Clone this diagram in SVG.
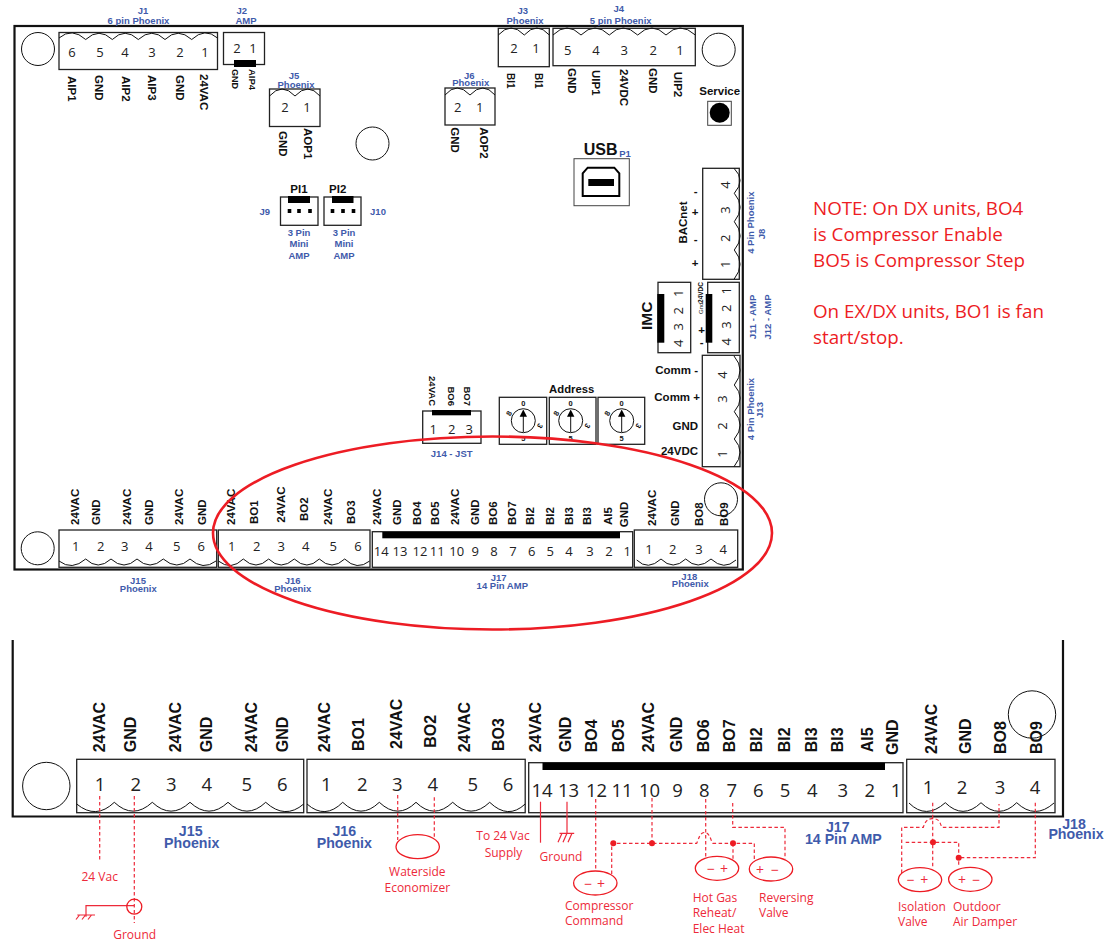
<svg xmlns="http://www.w3.org/2000/svg" width="1118" height="943" viewBox="0 0 1118 943">
<style>
text{font-family:"Liberation Sans",Arial,sans-serif;dominant-baseline:central}
.box{fill:#fff;stroke:#222;stroke-width:1.3}
.sc{fill:none;stroke:#111;stroke-width:1}
.bar{fill:#000;stroke:none}
.hole{fill:#fff;stroke:#111;stroke-width:1}
.bd{fill:none;stroke:#111;stroke-width:2.2}
.n{font-family:"Open Sans","Noto Sans",sans-serif;font-size:13px;fill:#222;text-anchor:middle}
.N{font-family:"Open Sans","Noto Sans",sans-serif;font-size:18.5px;fill:#222;text-anchor:middle}
.l{font-weight:700;font-size:11.5px;fill:#111}
.L{font-weight:700;font-size:16px;fill:#111}
.s{font-weight:700;font-size:9.5px;fill:#111}
.t{font-weight:700;font-size:7.5px;fill:#111;text-anchor:middle}
.b{font-weight:700;font-size:9.5px;fill:#3f5bab;text-anchor:middle}
.B{font-weight:700;font-size:14.2px;fill:#3f5bab;text-anchor:middle}
.r{font-family:"Open Sans","Noto Sans",sans-serif;font-size:12px;fill:#ed2a3a}
.p{font-family:"Open Sans","Noto Sans",sans-serif;font-size:14px;fill:#ed2a3a;text-anchor:middle}
.note{font-family:"Open Sans","Noto Sans",sans-serif;font-size:18.8px;fill:#ed1c24}
.w{fill:none;stroke:#ed2a3a;stroke-width:1.2;stroke-dasharray:3.5 2.5}
.ws{fill:none;stroke:#ed2a3a;stroke-width:1.2}
.dev{fill:none;stroke:#ed1c24;stroke-width:1.3}
.dot{fill:#ed1c24}
</style>

<g id="board-top"><rect class="bd" x="14.5" y="26" width="728.3" height="543.5"/></g>
<g id="holes-top">
<circle class="hole" cx="38" cy="49" r="16.5"/><circle class="hole" cx="372.5" cy="143.5" r="16.5"/><circle class="hole" cx="718.7" cy="49.7" r="16.5"/><circle class="hole" cx="37.7" cy="548.3" r="16.5"/><circle class="hole" cx="721" cy="499.3" r="16.5"/>
</g>

<g id="J1">
<rect class="box" x="59" y="32.5" width="158.5" height="37"/>
<path class="sc" d="M59 38Q72 27 85.7 39.5Q99 27 112.3 39.5Q125 27 138.3 39.5Q152 27 165 39.5Q178 27 191.7 39.5Q205 27 217.5 38"/>
<text class="n" x="72" y="52">6</text><text class="n" x="100" y="52">5</text><text class="n" x="125" y="52">4</text><text class="n" x="152" y="52">3</text><text class="n" x="180" y="52">2</text><text class="n" x="205" y="52">1</text>
<text class="l" transform="translate(72 76) rotate(90)">AIP1</text><text class="l" transform="translate(98.7 75) rotate(90)">GND</text><text class="l" transform="translate(126 76) rotate(90)">AIP2</text><text class="l" transform="translate(152 75) rotate(90)">AIP3</text><text class="l" transform="translate(180 75) rotate(90)">GND</text><text class="l" transform="translate(204 74) rotate(90)">24VAC</text>
<text class="b" x="143" y="10.5">J1</text><text class="b" x="138.5" y="20">6 pin Phoenix</text>
</g>
<g id="J2">
<rect class="box" x="223.5" y="32.5" width="41" height="32"/><rect class="bar" x="234" y="60" width="22" height="7"/>
<text class="n" x="237" y="48">2</text><text class="n" x="253" y="48">1</text>
<text class="s" style="font-size:9px" transform="translate(235 69) rotate(90)">GND</text><text class="s" transform="translate(252 69) rotate(90)">AIP4</text>
<text class="b" x="241.7" y="10.5">J2</text><text class="b" x="246" y="20">AMP</text>
</g>
<g id="J5">
<rect class="box" x="269.5" y="89" width="50.5" height="37.5"/><path class="sc" d="M269.5 96Q282 82 295 96Q308 82 320 96"/>
<text class="n" x="285" y="107">2</text><text class="n" x="307" y="107">1</text>
<text class="l" transform="translate(283 131) rotate(90)">GND</text><text class="l" transform="translate(308 128) rotate(90)">AOP1</text>
<text class="b" x="294" y="75">J5</text><text class="b" x="296" y="84">Phoenix</text>
</g>
<g id="J9">
<rect class="box" x="280.5" y="197" width="37.5" height="28.3"/><rect class="bar" x="288" y="196" width="22" height="7"/>
<rect class="bar" x="287.7" y="209" width="3.6" height="4"/><rect class="bar" x="297.2" y="209" width="3.6" height="4"/><rect class="bar" x="308.2" y="209" width="3.6" height="4"/>
<text class="l" text-anchor="middle" x="299" y="189">PI1</text><text class="b" x="264.7" y="211">J9</text>
<text class="b" x="299" y="232">3 Pin</text><text class="b" x="299" y="243.7">Mini</text><text class="b" x="299" y="255.6">AMP</text>
</g>
<g id="J10">
<rect class="box" x="324" y="197" width="37" height="28.3"/><rect class="bar" x="332" y="196" width="21.5" height="7"/>
<rect class="bar" x="330.7" y="209" width="3.6" height="4"/><rect class="bar" x="341.2" y="209" width="3.6" height="4"/><rect class="bar" x="351.7" y="209" width="3.6" height="4"/>
<text class="l" text-anchor="middle" x="337.7" y="189">PI2</text><text class="b" x="378" y="211">J10</text>
<text class="b" x="344" y="232">3 Pin</text><text class="b" x="344" y="243.7">Mini</text><text class="b" x="344" y="255.6">AMP</text>
</g>
<g id="J6">
<rect class="box" x="445" y="88" width="50" height="37"/><path class="sc" d="M445 95Q457 81 470 95Q483 81 495 95"/>
<text class="n" x="457.7" y="107">2</text><text class="n" x="479.7" y="107">1</text>
<text class="l" transform="translate(454.7 127.3) rotate(90)">GND</text><text class="l" transform="translate(483.7 127.3) rotate(90)">AOP2</text>
<text class="b" x="469.3" y="75">J6</text><text class="b" x="470.7" y="82">Phoenix</text>
</g>
<g id="J3">
<rect class="box" x="498.3" y="28.3" width="51" height="38.4"/><path class="sc" d="M498.3 35Q511 21 524.3 35Q537 21 549.3 35"/>
<text class="n" x="514" y="48">2</text><text class="n" x="536" y="48">1</text>
<text class="l" style="font-size:10px" transform="translate(510.7 73) rotate(90)">BI1</text><text class="l" style="font-size:10px" transform="translate(538.7 73) rotate(90)">BI1</text>
<text class="b" x="522.7" y="10.7">J3</text><text class="b" x="525" y="20.7">Phoenix</text>
</g>
<g id="J4">
<rect class="box" x="553" y="28.3" width="142.3" height="37.4"/><path class="sc" d="M553 35Q567 21 581 35Q595 21 609.3 35Q623 21 637.7 35Q652 21 666 35Q680 21 695.3 35"/>
<text class="n" x="567.7" y="50">5</text><text class="n" x="596" y="50">4</text><text class="n" x="624.3" y="50">3</text><text class="n" x="653.3" y="50">2</text><text class="n" x="680" y="50">1</text>
<text class="l" transform="translate(571.7 68) rotate(90)">GND</text><text class="l" transform="translate(596 70) rotate(90)">UIP1</text><text class="l" transform="translate(623.7 69) rotate(90)">24VDC</text><text class="l" transform="translate(653.3 68) rotate(90)">GND</text><text class="l" transform="translate(677.7 71.7) rotate(90)">UIP2</text>
<text class="b" x="618.7" y="8.3">J4</text><text class="b" x="620.7" y="20.7">5 pin Phoenix</text>
</g>
<g id="service">
<text class="l" text-anchor="middle" x="719.7" y="91">Service</text>
<rect x="707.7" y="101.3" width="23.6" height="24" fill="#fff" stroke="#444" stroke-width="1"/><circle cx="719.7" cy="112.7" r="10" fill="#000"/>
</g>
<g id="usb">
<text x="600.7" y="149.3" text-anchor="middle" font-weight="700" font-size="16px" fill="#111">USB</text><text class="b" x="625" y="153.3">P1</text>
<rect x="574" y="158.7" width="55.3" height="47" fill="#fff" stroke="#444" stroke-width="1"/>
<path d="M582.7 196V173.3L587.7 167.7H614.3L619.3 173.3V196Z" fill="none" stroke="#000" stroke-width="2"/><rect class="bar" x="588.3" y="179" width="25.7" height="7"/>
</g>
<g id="J8">
<rect class="box" x="702.7" y="168.3" width="36.6" height="111"/><path class="sc" d="M734 168.3Q746 180 734.3 193.3Q746 207 734.3 221.7Q746 236 734.3 250Q746 264 734 279.3"/>
<text class="n" transform="translate(725 185) rotate(-90)">4</text><text class="n" transform="translate(725 210) rotate(-90)">3</text><text class="n" transform="translate(725 238.3) rotate(-90)">2</text><text class="n" transform="translate(725 264.3) rotate(-90)">1</text>
<text class="l" text-anchor="middle" x="695.7" y="190.7">-</text><text class="l" text-anchor="middle" x="695" y="212">+</text><text class="l" text-anchor="middle" x="695.7" y="239">-</text><text class="l" text-anchor="middle" x="695" y="263">+</text>
<text class="l" text-anchor="middle" transform="translate(682.7 222.5) rotate(-90)">BACnet</text>
<text class="b" transform="translate(750.7 222.7) rotate(-90)">4 Pin Phoenix</text><text class="b" transform="translate(761.7 234) rotate(-90)">J8</text>
</g>
<g id="IMC">
<rect class="box" x="658" y="282.3" width="32.7" height="70.4"/><rect class="bar" x="657.3" y="294" width="7" height="48.7"/>
<text class="n" transform="translate(678.3 293.3) rotate(-90)">1</text><text class="n" transform="translate(678.3 310.7) rotate(-90)">2</text><text class="n" transform="translate(678.3 326.7) rotate(-90)">3</text><text class="n" transform="translate(678.3 343.3) rotate(-90)">4</text>
<text text-anchor="middle" font-weight="700" font-size="15.5px" fill="#111" transform="translate(646 315.8) rotate(-90)">IMC</text>
</g>
<g id="J11-J12">
<rect class="box" x="707.7" y="282.3" width="31.6" height="70.4"/><rect class="bar" x="705.7" y="294" width="6.6" height="48.7"/>
<text class="n" transform="translate(726 290.7) rotate(-90)">1</text><text class="n" transform="translate(726 308.3) rotate(-90)">2</text><text class="n" transform="translate(726 325) rotate(-90)">3</text><text class="n" transform="translate(726 341.7) rotate(-90)">4</text>
<text class="t" style="font-size:6.5px" transform="translate(700.7 292.5) rotate(-90)">24VDC</text><text class="t" style="font-size:6px;font-weight:400" transform="translate(700.7 308.3) rotate(-90)">Gnd</text>
<text class="l" text-anchor="middle" x="701.7" y="330">+</text><text class="l" text-anchor="middle" x="701.7" y="342.3">-</text>
<text class="b" transform="translate(752.3 317) rotate(-90)">J11 - AMP</text><text class="b" transform="translate(767.7 317) rotate(-90)">J12 - AMP</text>
</g>
<g id="J13">
<rect class="box" x="702.3" y="355.3" width="37.7" height="111.4"/><path class="sc" d="M734 356Q746 370 734.3 385Q746 398 734.3 411.7Q746 425 734.3 439Q746 452 734 466.7"/>
<text class="n" transform="translate(721.7 375) rotate(-90)">4</text><text class="n" transform="translate(721.7 399) rotate(-90)">3</text><text class="n" transform="translate(721.7 426) rotate(-90)">2</text><text class="n" transform="translate(721.7 454) rotate(-90)">1</text>
<text class="l" text-anchor="end" x="698" y="370">Comm -</text><text class="l" text-anchor="end" x="700" y="397">Comm +</text><text class="l" text-anchor="end" x="698" y="425.7">GND</text><text class="l" text-anchor="end" x="698" y="451">24VDC</text>
<text class="b" transform="translate(750 409) rotate(-90)">4 Pin Phoenix</text><text class="b" transform="translate(759.3 410) rotate(-90)">J13</text>
</g>
<g id="J14">
<rect class="box" x="422.7" y="411" width="58.3" height="32.3"/><rect class="bar" x="432" y="410" width="39" height="5.3"/>
<text class="n" x="433.3" y="429">1</text><text class="n" x="451.7" y="429">2</text><text class="n" x="469.3" y="429">3</text>
<text class="s" text-anchor="end" transform="translate(432.7 406) rotate(90)">24VAC</text><text class="s" text-anchor="end" transform="translate(451 406) rotate(90)">BO6</text><text class="s" text-anchor="end" transform="translate(467.7 406) rotate(90)">BO7</text>
<text class="b" x="451.7" y="453.7">J14 - JST</text>
</g>
<g id="address">
<text class="l" style="font-size:11.3px" text-anchor="middle" x="571.7" y="389.3">Address</text>
<g id="dial1"><rect class="box" x="499.3" y="397.3" width="47.4" height="47"/><circle cx="523.3" cy="420.7" r="12" fill="none" stroke="#111" stroke-width="1"/><path d="M523.3 432V415" stroke="#111" stroke-width="1"/><path class="bar" d="M523.3 409.5L527 416.7H519.6Z"/>
<text class="t" x="523.3" y="403.3">0</text><text class="t" x="523.3" y="438.3">5</text><text class="t" transform="translate(509 413.5) rotate(-60)">8</text><text class="t" transform="translate(540 425.7) rotate(120)">3</text></g>
<g id="dial2"><rect class="box" x="549.3" y="397.3" width="46.7" height="47"/><circle cx="570.7" cy="420.7" r="12" fill="none" stroke="#111" stroke-width="1"/><path d="M570.7 432V415" stroke="#111" stroke-width="1"/><path class="bar" d="M570.7 409.5L574.4 416.7H567Z"/>
<text class="t" x="570.7" y="403.3">0</text><text class="t" x="570.7" y="438.3">5</text><text class="t" transform="translate(556.4 413.5) rotate(-60)">8</text><text class="t" transform="translate(587.4 425.7) rotate(120)">3</text></g>
<g id="dial3"><rect class="box" x="598" y="397.3" width="46.7" height="47"/><circle cx="621.7" cy="420.7" r="12" fill="none" stroke="#111" stroke-width="1"/><path d="M621.7 432V415" stroke="#111" stroke-width="1"/><path class="bar" d="M621.7 409.5L625.4 416.7H618Z"/>
<text class="t" x="621.7" y="403.3">0</text><text class="t" x="621.7" y="438.3">5</text><text class="t" transform="translate(607.4 413.5) rotate(-60)">8</text><text class="t" transform="translate(638.4 425.7) rotate(120)">3</text></g>
</g>
<g id="J15">
<rect class="box" x="59" y="530" width="157.7" height="37.3"/><path class="sc" d="M59 561Q72 571 85.7 559Q98 571 111 559Q124 571 137 559Q150 571 163.3 559Q177 571 190 559Q203 571 216 561"/>
<text class="n" x="75.7" y="546">1</text><text class="n" x="100.7" y="546">2</text><text class="n" x="124.7" y="546">3</text><text class="n" x="149" y="546">4</text><text class="n" x="176.7" y="546">5</text><text class="n" x="201.3" y="546">6</text>
<text class="l" transform="translate(74.7 525) rotate(-90)">24VAC</text><text class="l" transform="translate(96 525) rotate(-90)">GND</text><text class="l" transform="translate(126.7 525) rotate(-90)">24VAC</text><text class="l" transform="translate(149.3 525) rotate(-90)">GND</text><text class="l" transform="translate(179 525) rotate(-90)">24VAC</text><text class="l" transform="translate(201.7 525) rotate(-90)">GND</text>
<text class="b" x="138" y="580">J15</text><text class="b" x="138.3" y="588.7">Phoenix</text>
</g>
<g id="J16">
<rect class="box" x="218.3" y="530" width="151.7" height="37.3"/><path class="sc" d="M218.3 561Q231 571 243.3 559Q256 571 268.7 559Q281 571 294.3 559Q307 571 319.3 559Q332 571 344.7 559Q357 571 369.7 561"/>
<text class="n" x="231.7" y="546">1</text><text class="n" x="256.7" y="546">2</text><text class="n" x="281.3" y="546">3</text><text class="n" x="305.7" y="546">4</text><text class="n" x="333.3" y="546">5</text><text class="n" x="358" y="546">6</text>
<text class="l" transform="translate(231 525) rotate(-90)">24VAC</text><text class="l" transform="translate(254.3 524) rotate(-90)">BO1</text><text class="l" transform="translate(280.7 522.7) rotate(-90)">24VAC</text><text class="l" transform="translate(303.7 521) rotate(-90)">BO2</text><text class="l" transform="translate(327.7 525) rotate(-90)">24VAC</text><text class="l" transform="translate(350.7 524) rotate(-90)">BO3</text>
<text class="b" x="292.7" y="580">J16</text><text class="b" x="292.7" y="588.7">Phoenix</text>
</g>
<g id="J17">
<rect class="box" x="372.3" y="531.7" width="260.4" height="35.6"/><rect class="bar" x="382.3" y="532" width="237.7" height="6.3"/>
<text class="n" x="381.3" y="550.7">14</text><text class="n" x="400" y="550.7">13</text><text class="n" x="420" y="550.7">12</text><text class="n" x="437.3" y="550.7">11</text><text class="n" x="456.7" y="550.7">10</text><text class="n" x="475.3" y="550.7">9</text><text class="n" x="494" y="550.7">8</text><text class="n" x="513" y="550.7">7</text><text class="n" x="531.7" y="550.7">6</text><text class="n" x="550.3" y="550.7">5</text><text class="n" x="569" y="550.7">4</text><text class="n" x="590" y="550.7">3</text><text class="n" x="609" y="550.7">2</text><text class="n" x="627.3" y="550.7">1</text>
<text class="l" transform="translate(376.7 525) rotate(-90)">24VAC</text><text class="l" transform="translate(397.3 525) rotate(-90)">GND</text><text class="l" transform="translate(416.7 525) rotate(-90)">BO4</text><text class="l" transform="translate(434.7 525) rotate(-90)">BO5</text><text class="l" transform="translate(455.3 525) rotate(-90)">24VAC</text><text class="l" transform="translate(474.7 525) rotate(-90)">GND</text><text class="l" transform="translate(493.3 525) rotate(-90)">BO6</text><text class="l" transform="translate(512 525) rotate(-90)">BO7</text><text class="l" transform="translate(530.3 525) rotate(-90)">BI2</text><text class="l" transform="translate(550 525) rotate(-90)">BI2</text><text class="l" transform="translate(568.7 525) rotate(-90)">BI3</text><text class="l" transform="translate(587.3 525) rotate(-90)">BI3</text><text class="l" transform="translate(607.7 525) rotate(-90)">AI5</text><text class="l" transform="translate(624.3 527.3) rotate(-90)">GND</text>
<text class="b" x="498.7" y="577.3">J17</text><text class="b" x="502.3" y="585.3">14 Pin AMP</text>
</g>
<g id="J18">
<rect class="box" x="634.3" y="530" width="103.4" height="37.3"/><path class="sc" d="M636.7 560Q648 571 661 559Q673 571 685.7 559Q698 571 711 559Q724 571 736 560"/>
<text class="n" x="649" y="548.7">1</text><text class="n" x="672.7" y="548.7">2</text><text class="n" x="699" y="548.7">3</text><text class="n" x="723.3" y="548.7">4</text>
<text class="l" transform="translate(651.7 526) rotate(-90)">24VAC</text><text class="l" transform="translate(675 526) rotate(-90)">GND</text><text class="l" transform="translate(699.3 526) rotate(-90)">BO8</text><text class="l" transform="translate(724 526) rotate(-90)">BO9</text>
<text class="b" x="689.3" y="576">J18</text><text class="b" x="690.3" y="583.7">Phoenix</text>
</g>
<g id="highlight"><ellipse cx="492.5" cy="533" rx="279.5" ry="96.5" fill="none" stroke="#ed1c24" stroke-width="2.6"/></g>
<g id="note">
<text class="note" x="813" y="208">NOTE: On DX units, BO4</text><text class="note" x="813" y="234">is Compressor Enable</text><text class="note" x="813" y="260">BO5 is Compressor Step</text><text class="note" x="813" y="311">On EX/DX units, BO1 is fan</text><text class="note" x="813" y="337">start/stop.</text>
</g>

<g id="board-bottom">
<path class="bd" d="M12.7 640V816.5H1063V640"/>
<circle class="hole" cx="46.3" cy="786" r="23.7"/><circle class="hole" cx="1032" cy="714.5" r="23.7"/>
</g>
<g id="J15-detail">
<rect class="box" x="76.7" y="759.3" width="227" height="53.4"/><path class="sc" d="M76.7 804Q96 820 114.3 802.3Q133 820 152.3 802.3Q171 820 190 802.3Q209 820 228 802.3Q247 820 265.7 802.3Q285 820 303.7 804"/>
<text class="N" x="100" y="783.3">1</text><text class="N" x="135.7" y="783.3">2</text><text class="N" x="171.3" y="783.3">3</text><text class="N" x="206.7" y="783.3">4</text><text class="N" x="246.7" y="783.3">5</text><text class="N" x="282.3" y="783.3">6</text>
<text class="L" transform="translate(99.3 752.3) rotate(-90)">24VAC</text><text class="L" transform="translate(130.7 752.3) rotate(-90)">GND</text><text class="L" transform="translate(175.7 752.3) rotate(-90)">24VAC</text><text class="L" transform="translate(206.7 752.3) rotate(-90)">GND</text><text class="L" transform="translate(251 752.3) rotate(-90)">24VAC</text><text class="L" transform="translate(282.7 752.3) rotate(-90)">GND</text>
<text class="B" x="190.7" y="831">J15</text><text class="B" x="191.7" y="843.3">Phoenix</text>
</g>
<g id="J16-detail">
<rect class="box" x="307" y="759.3" width="218.2" height="53.4"/><path class="sc" d="M307 804Q325 820 342.7 802.3Q361 820 379.3 802.3Q398 820 416 802.3Q434 820 452.7 802.3Q471 820 489.7 802.3Q508 820 525.2 804"/>
<text class="N" x="326.3" y="783.3">1</text><text class="N" x="362.3" y="783.3">2</text><text class="N" x="397.3" y="783.3">3</text><text class="N" x="432.7" y="783.3">4</text><text class="N" x="472.7" y="783.3">5</text><text class="N" x="508" y="783.3">6</text>
<text class="L" transform="translate(324.7 752.3) rotate(-90)">24VAC</text><text class="L" transform="translate(358.3 751) rotate(-90)">BO1</text><text class="L" transform="translate(396.7 749) rotate(-90)">24VAC</text><text class="L" transform="translate(430 747.7) rotate(-90)">BO2</text><text class="L" transform="translate(464 752.3) rotate(-90)">24VAC</text><text class="L" transform="translate(498 751) rotate(-90)">BO3</text>
<text class="B" x="344.3" y="831">J16</text><text class="B" x="344.3" y="843.3">Phoenix</text>
</g>
<g id="J17-detail">
<rect class="box" x="528.7" y="762.7" width="374.3" height="50"/><rect class="bar" x="542.5" y="762.7" width="342.5" height="7.3"/>
<text class="N" x="542" y="789">14</text><text class="N" x="568.5" y="789">13</text><text class="N" x="596.5" y="789">12</text><text class="N" x="622" y="789">11</text><text class="N" x="649.6" y="789">10</text><text class="N" x="677.6" y="789">9</text><text class="N" x="704.3" y="789">8</text><text class="N" x="731.9" y="789">7</text><text class="N" x="758.3" y="789">6</text><text class="N" x="785" y="789">5</text><text class="N" x="812.2" y="789">4</text><text class="N" x="842.9" y="789">3</text><text class="N" x="869.7" y="789">2</text><text class="N" x="896" y="789">1</text>
<text class="L" transform="translate(535.4 752.3) rotate(-90)">24VAC</text><text class="L" transform="translate(565 752.3) rotate(-90)">GND</text><text class="L" transform="translate(591.7 752.3) rotate(-90)">BO4</text><text class="L" transform="translate(618.5 752.3) rotate(-90)">BO5</text><text class="L" transform="translate(648.4 752.3) rotate(-90)">24VAC</text><text class="L" transform="translate(676.8 752.3) rotate(-90)">GND</text><text class="L" transform="translate(703.1 752.3) rotate(-90)">BO6</text><text class="L" transform="translate(729.5 752.3) rotate(-90)">BO7</text><text class="L" transform="translate(756.3 752.3) rotate(-90)">BI2</text><text class="L" transform="translate(784.3 752.3) rotate(-90)">BI2</text><text class="L" transform="translate(811.4 752.3) rotate(-90)">BI3</text><text class="L" transform="translate(837.8 752.3) rotate(-90)">BI3</text><text class="L" transform="translate(867.7 752.3) rotate(-90)">AI5</text><text class="L" transform="translate(892.5 755) rotate(-90)">GND</text>
<text class="B" x="837.8" y="826.7">J17</text><text class="B" x="843.3" y="839">14 Pin AMP</text>
</g>
<g id="J18-detail">
<rect class="box" x="906.7" y="759.3" width="148.3" height="53.4"/><path class="sc" d="M909 803Q926 820 945.3 802.7Q963 820 981 802.7Q999 820 1016.7 802.7Q1035 820 1054 803"/>
<text class="N" x="928" y="786">1</text><text class="N" x="962" y="786">2</text><text class="N" x="1000" y="786">3</text><text class="N" x="1035" y="786">4</text>
<text class="L" transform="translate(931.9 754) rotate(-90)">24VAC</text><text class="L" transform="translate(965.4 754) rotate(-90)">GND</text><text class="L" transform="translate(1000 754) rotate(-90)">BO8</text><text class="L" transform="translate(1036.2 754) rotate(-90)">BO9</text>
<text class="B" x="1074" y="824">J18</text><text class="B" x="1076" y="834.3">Phoenix</text>
</g>

<g id="connectors">
<path class="w" d="M99.7 796V861.7"/>
<path class="w" d="M134.3 796V923"/>
<path class="ws" d="M134 905.7H86V916.7"/>
<path class="ws" d="M77.3 915H95M79.5 915L76 919.5M85.5 915L82 919.5M91.5 915L88 919.5"/>
<path class="w" d="M397.7 795V840"/><path class="w" d="M434.3 797.3V836.7"/>
<path class="ws" d="M540.5 801.7V842.7"/>
<path class="ws" d="M567 801.7V833.3M559.5 833.3H574.2M562 833.3L558 842.3M567 833.3L563 842.3M572 833.3L568 842.3"/>
<path class="w" d="M595.7 799V871"/>
<path class="w" d="M611.7 874V843.3H696.7C699 838 700 833 704 832.5C709 832 710 838 712.7 843.3H754.3V861.7"/>
<path class="w" d="M652 798V843.3"/>
<path class="w" d="M705.7 799V858.3"/>
<path class="w" d="M733 843.3V860"/>
<path class="w" d="M732.7 803V827.3H785V859.3"/>
<path class="w" d="M932.7 802.7V868.3"/>
<path class="w" d="M905.7 842.3H958.7V867.3"/><path class="w" d="M901.7 873V827.3H923.3C925 822 927 819 932 818.7C939 818.5 940 822 941.7 827.3H999V804"/>
<path class="w" d="M1035.3 802.7V857.7H958.7"/>
<circle class="dot" cx="613.3" cy="843.3" r="3"/><circle class="dot" cx="652" cy="843.3" r="3"/><circle class="dot" cx="733" cy="843.3" r="3"/><circle class="dot" cx="933" cy="842.3" r="3"/><circle class="dot" cx="958.7" cy="857.7" r="3"/>
</g>

<g id="ground-left"><circle class="dev" cx="134.3" cy="906.7" r="7.5"/><text class="r" text-anchor="middle" x="134.7" y="934.3">Ground</text><text class="r" text-anchor="middle" x="99.7" y="876.7">24 Vac</text></g>
<g id="waterside"><ellipse class="dev" cx="417.7" cy="846.7" rx="21.7" ry="12"/><text class="r" text-anchor="middle" x="417.3" y="871.7">Waterside</text><text class="r" text-anchor="middle" x="417.3" y="887.7">Economizer</text></g>
<g id="supply"><text class="r" text-anchor="middle" x="503" y="835.3">To 24 Vac</text><text class="r" text-anchor="middle" x="503.5" y="852.7">Supply</text><text class="r" text-anchor="middle" x="561" y="856.3">Ground</text></g>
<g id="compressor"><ellipse class="dev" cx="595.3" cy="883" rx="21.7" ry="12"/><text class="p" x="588.3" y="883">−</text><text class="p" x="601" y="883">+</text><text class="r" x="565" y="905.3">Compressor</text><text class="r" x="565" y="920.7">Command</text></g>
<g id="hot-gas"><ellipse class="dev" cx="717" cy="868.3" rx="21.7" ry="12"/><text class="p" x="711" y="868.3">−</text><text class="p" x="724" y="868.3">+</text><text class="r" x="692.7" y="897">Hot Gas</text><text class="r" x="692.7" y="912.7">Reheat/</text><text class="r" x="692.7" y="928">Elec Heat</text></g>
<g id="reversing"><ellipse class="dev" cx="771" cy="869" rx="21.7" ry="12"/><text class="p" x="760" y="869">+</text><text class="p" x="775" y="869">−</text><text class="r" x="759" y="897">Reversing</text><text class="r" x="759" y="912.7">Valve</text></g>
<g id="isolation"><ellipse class="dev" cx="920" cy="879.7" rx="21.7" ry="12"/><text class="p" x="910.7" y="879.7">−</text><text class="p" x="924.3" y="879.7">+</text><text class="r" x="898" y="906">Isolation</text><text class="r" x="898" y="921.7">Valve</text></g>
<g id="outdoor"><ellipse class="dev" cx="970.3" cy="879.3" rx="21.7" ry="12"/><text class="p" x="962" y="879.3">+</text><text class="p" x="976.3" y="879.3">−</text><text class="r" x="953" y="906">Outdoor</text><text class="r" x="953" y="921.7">Air Damper</text></g>
</svg>
